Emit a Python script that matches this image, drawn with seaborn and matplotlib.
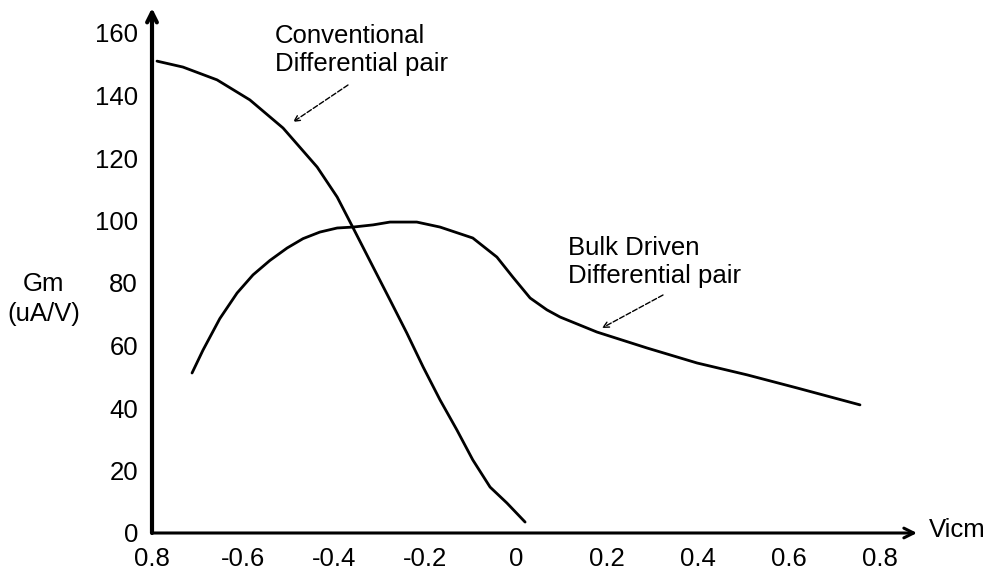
import numpy as np
import pandas as pd
import matplotlib
matplotlib.use("Agg")
import matplotlib.pyplot as plt
import seaborn as sns

# ---- data ----
conv_x = [-0.789, -0.732, -0.657, -0.585, -0.512, -0.437, -0.393, -0.360,
          -0.314, -0.277, -0.240, -0.204, -0.167, -0.130, -0.095, -0.057,
          -0.020, 0.020]
conv_y = [151.0, 149.1, 145.0, 138.6, 129.6, 117.1, 107.5, 98.2,
          85.1, 74.6, 64.0, 53.1, 42.6, 33.0, 23.4, 14.7,
          9.6, 3.5]

bulk_x = [-0.712, -0.688, -0.651, -0.613, -0.578, -0.541, -0.503, -0.468,
          -0.431, -0.393, -0.358, -0.314, -0.277, -0.218, -0.167, -0.095,
          -0.042, -0.007, 0.031, 0.068, 0.097, 0.178, 0.288, 0.398,
          0.508, 0.618, 0.756]
bulk_y = [51.2, 58.5, 68.6, 76.8, 82.6, 87.2, 91.2, 94.2,
          96.3, 97.6, 97.9, 98.6, 99.5, 99.5, 97.9, 94.4,
          88.3, 81.9, 75.2, 71.4, 69.1, 64.3, 59.2, 54.4,
          50.6, 46.4, 41.0]

x_ticks = [-0.8, -0.6, -0.4, -0.2, 0.0, 0.2, 0.4, 0.6, 0.8]
x_tick_labels = ["0.8", "-0.6", "-0.4", "-0.2", "0", "0.2", "0.4", "0.6", "0.8"]
y_ticks = [0, 20, 40, 60, 80, 100, 120, 140, 160]
y_tick_labels = ["0", "20", "40", "60", "80", "100", "120", "140", "160"]

conv_label = "Conventional\nDifferential pair"
bulk_label = "Bulk Driven\nDifferential pair"
y_label = "Gm\n(uA/V)"
x_label = "Vicm"

df = pd.concat([
    pd.DataFrame({"Vicm": conv_x, "Gm": conv_y, "curve": "conv"}),
    pd.DataFrame({"Vicm": bulk_x, "Gm": bulk_y, "curve": "bulk"}),
])

sns.set_style("white")
plt.rcParams["font.family"] = ["Liberation Sans", "DejaVu Sans"]
plt.rcParams["text.color"] = "black"

FS = 18.5

fig = plt.figure(figsize=(9.93, 5.71), dpi=100)
ax = fig.add_axes([152/993, 1-533/571, (917-152)/993, (533-8)/571])

sns.lineplot(data=df, x="Vicm", y="Gm", units="curve", estimator=None,
             color="black", linewidth=2.0, sort=False, ax=ax, legend=False)

ax.set_xlim(-0.8, 0.8 + 37/455)
ax.set_ylim(0, 168)

for s in ax.spines.values():
    s.set_visible(False)

# axis lines with arrowheads
ax.annotate("", xy=(1.0, 0), xytext=(0, 0), xycoords="axes fraction",
            arrowprops=dict(arrowstyle="->,head_length=0.7,head_width=0.35",
                            lw=2.2, color="black", shrinkA=0, shrinkB=0))
ax.annotate("", xy=(0, 1.0), xytext=(0, 0), xycoords="axes fraction",
            arrowprops=dict(arrowstyle="->,head_length=0.7,head_width=0.35",
                            lw=3.0, color="black", shrinkA=0, shrinkB=0))

ax.set_xticks(x_ticks)
ax.set_xticklabels(x_tick_labels)
ax.set_yticks(y_ticks)
ax.set_yticklabels(y_tick_labels)
ax.tick_params(axis="x", direction="in", length=5, width=2, pad=10,
               labelsize=FS, colors="black")
ax.tick_params(axis="y", direction="in", length=9, width=2, pad=10,
               labelsize=FS, colors="black")
ax.set_xlabel("")
ax.set_ylabel("")

fig.text(44/993, 1-299/571, y_label, ha="center", va="center",
         fontsize=FS, linespacing=1.3, color="black")
fig.text(929/993, 1-530/571, x_label, ha="left", va="center",
         fontsize=FS, color="black")

# curve labels with dashed arrows
fig.text(275/993, 1-50/571, conv_label, ha="left", va="center",
         fontsize=FS, linespacing=1.2, color="black")
ax.annotate("", xy=(-0.80 + (293-152)/455, (533-122)/3.125),
            xytext=(-0.80 + (348-152)/455, (533-85)/3.125),
            arrowprops=dict(arrowstyle="->", lw=1.0, ls="--", color="black",
                            shrinkA=0, shrinkB=0))
ax.text(-0.80 + (568-152)/455, (533-262)/3.125, bulk_label,
        ha="left", va="center", fontsize=FS, linespacing=1.2, color="black")
ax.annotate("", xy=(-0.80 + (602-152)/455, (533-328)/3.125),
            xytext=(-0.80 + (663-152)/455, (533-295)/3.125),
            arrowprops=dict(arrowstyle="->", lw=1.0, ls="--", color="black",
                            shrinkA=0, shrinkB=0))

fig.savefig("out.png", dpi=100)
